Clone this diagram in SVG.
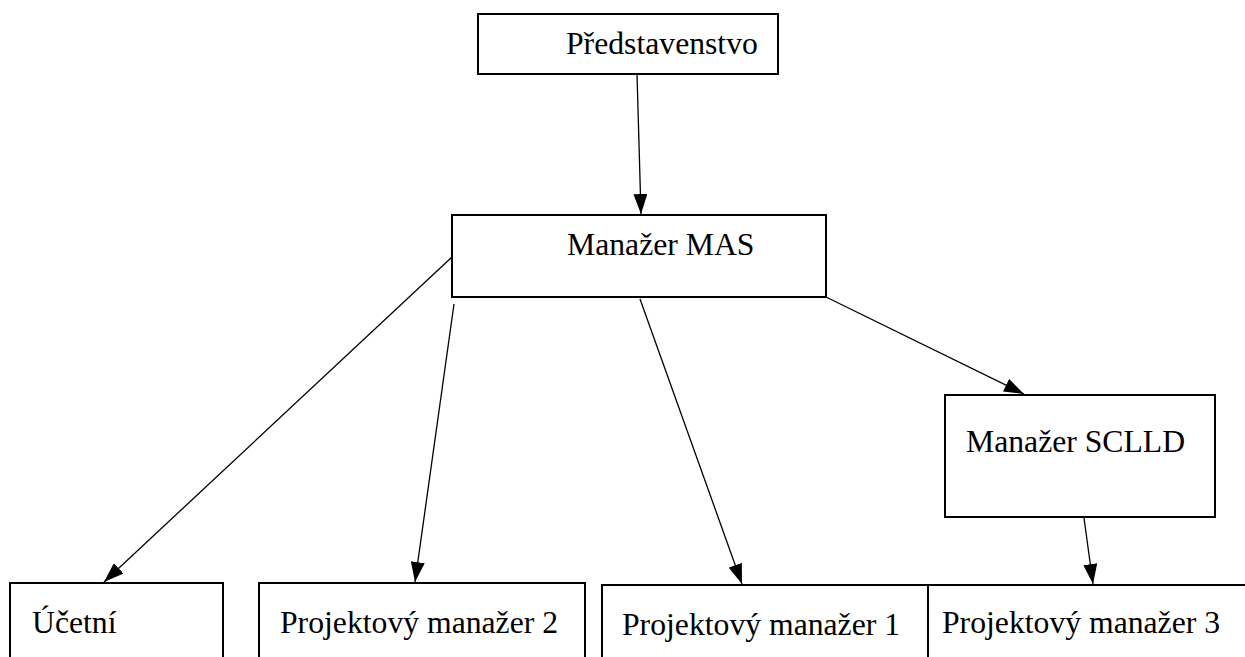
<svg xmlns="http://www.w3.org/2000/svg" width="1245" height="657" viewBox="0 0 1245 657">
<style>
.box{fill:#fff;stroke:#000;stroke-width:2}
.open{fill:none;stroke:#000;stroke-width:2}
.c{stroke:#000;stroke-width:1.3;fill:none}
</style>
<defs>
<marker id="ah" markerWidth="20" markerHeight="14" refX="20" refY="7" orient="auto" markerUnits="userSpaceOnUse">
<path d="M0,0 L20,7 L0,14 Z" fill="#000"/>
</marker>
</defs>
<rect width="1245" height="657" fill="#fff"/>
<g id="connectors">
<line class="c" x1="637" y1="74" x2="641" y2="214" marker-end="url(#ah)"/>
<line class="c" x1="452" y1="257" x2="104" y2="582" marker-end="url(#ah)"/>
<line class="c" x1="454" y1="304" x2="415" y2="582" marker-end="url(#ah)"/>
<line class="c" x1="640" y1="299" x2="742" y2="584" marker-end="url(#ah)"/>
<line class="c" x1="826" y1="297" x2="1024" y2="394" marker-end="url(#ah)"/>
<line class="c" x1="1084" y1="518" x2="1093" y2="584" marker-end="url(#ah)"/>
</g>
<g font-family="Liberation Serif, Times New Roman, serif" font-size="31.7" fill="#000">
<g id="n-predstavenstvo">
<rect class="box" x="478" y="14" width="300" height="60"/>
<text x="566" y="54">Představenstvo</text>
</g>
<g id="n-manazer-mas">
<rect class="box" x="452" y="215" width="374" height="82"/>
<text x="567" y="255">Manažer MAS</text>
</g>
<g id="n-manazer-sclld">
<rect class="box" x="945" y="395" width="270" height="122"/>
<text x="966" y="452">Manažer SCLLD</text>
</g>
<g id="n-ucetni">
<path class="open" d="M10,660 V583 H223 V660"/>
<text x="32" y="633">Účetní</text>
</g>
<g id="n-pm2">
<path class="open" d="M259,660 V583 H585 V660"/>
<text x="280" y="633">Projektový manažer 2</text>
</g>
<g id="n-pm1">
<path class="open" d="M602,660 V585 H928 V660"/>
<text x="622" y="635">Projektový manažer 1</text>
</g>
<g id="n-pm3">
<path class="open" d="M928,585 H1250"/>
<text x="942" y="633">Projektový manažer 3</text>
</g>
</g>
</svg>
